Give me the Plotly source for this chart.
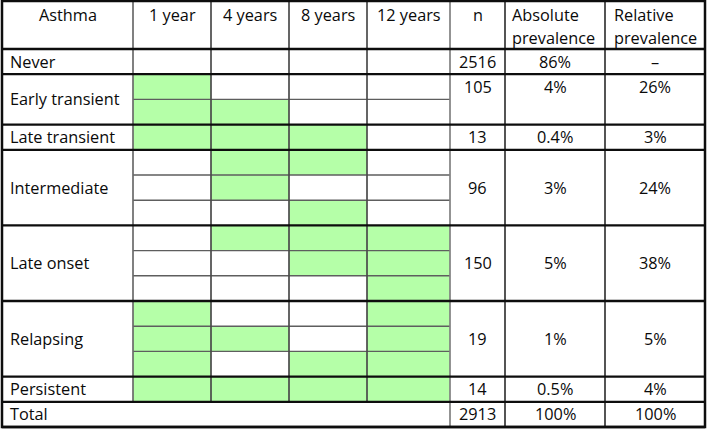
import plotly.graph_objects as go

# ---------------- data ----------------
groups = ["Never", "Early transient", "Late transient", "Intermediate",
          "Late onset", "Relapsing", "Persistent", "Total"]
ages = ["1 year", "4 years", "8 years", "12 years"]
# asthma present (1) / absent (0) at each age, one tuple per sub-row
patterns = [
    [(0, 0, 0, 0)],
    [(1, 0, 0, 0), (1, 1, 0, 0)],
    [(1, 1, 1, 0)],
    [(0, 1, 1, 0), (0, 1, 0, 0), (0, 0, 1, 0)],
    [(0, 1, 1, 1), (0, 0, 1, 1), (0, 0, 0, 1)],
    [(1, 0, 0, 1), (1, 1, 0, 1), (1, 0, 1, 1)],
    [(1, 1, 1, 1)],
    None,
]
n_values = ["2516", "105", "13", "96", "150", "19", "14", "2913"]
absolute = ["86%", "4%", "0.4%", "3%", "5%", "1%", "0.5%", "100%"]
relative = ["–", "26%", "3%", "24%", "38%", "5%", "4%", "100%"]
top_aligned = ["Early transient"]
header_first = "Asthma"
header_n = "n"
header_abs = ["Absolute", "prevalence"]
header_rel = ["Relative", "prevalence"]

# ---------------- layout geometry ----------------
W, H = 709, 429
col_x = [2, 133, 211, 289, 367, 450, 505, 605, 705]
top = 1
header_h = 48
row_h = 25.2
GREEN = "#b5ffa8"
FONT = dict(family="Open Sans", size=16.3, color="#0a0a0a")

shapes = []
ann = []

def hline(x0, x1, y, w, c):
    shapes.append(dict(type="line", xref="x", yref="y", x0=x0, x1=x1, y0=y, y1=y,
                       line=dict(color=c, width=w)))

def vline(x, y0, y1, w, c):
    shapes.append(dict(type="line", xref="x", yref="y", x0=x, x1=x, y0=y0, y1=y1,
                       line=dict(color=c, width=w)))

def text(x, y, s, xanchor="center"):
    ann.append(dict(x=x, y=y, xref="x", yref="y", text=s, showarrow=False,
                    xanchor=xanchor, yanchor="middle", font=FONT))

# header text
text(col_x[0] + (col_x[1] - col_x[0]) / 2, top + 14, header_first)
for i, a in enumerate(ages):
    text((col_x[1 + i] + col_x[2 + i]) / 2, top + 14, a)
text((col_x[5] + col_x[6]) / 2, top + 14, header_n)
text(col_x[6] + 5, top + 14, header_abs[0], "left")
text(col_x[6] + 5, top + 37, header_abs[1], "left")
text(col_x[7] + 7, top + 14, header_rel[0], "left")
text(col_x[7] + 7, top + 37, header_rel[1], "left")

y = top + header_h
group_edges = [y]
sub_lines = []
for gi, g in enumerate(groups):
    pats = patterns[gi]
    nrows = len(pats) if pats else 1
    y0 = y
    y1 = y + nrows * row_h
    if pats:
        for ri, p in enumerate(pats):
            ry0 = y0 + ri * row_h
            ry1 = ry0 + row_h
            for ci, v in enumerate(p):
                if v:
                    shapes.append(dict(type="rect", xref="x", yref="y",
                                       x0=col_x[1 + ci], x1=col_x[2 + ci], y0=ry0, y1=ry1,
                                       fillcolor=GREEN, line=dict(width=0), layer="below"))
            if ri > 0:
                sub_lines.append(ry0)
    ty = (y0 + row_h / 2) if g in top_aligned else (y0 + y1) / 2
    text(col_x[0] + 6, (y0 + y1) / 2, g, "left")
    text((col_x[5] + col_x[6]) / 2, ty, n_values[gi])
    text((col_x[6] + col_x[7]) / 2, ty, absolute[gi])
    text((col_x[7] + col_x[8]) / 2, ty, relative[gi])
    y = y1
    group_edges.append(y)

bottom = y
total_top = group_edges[-2]

# thin sub-row lines
for sy in sub_lines:
    hline(col_x[1], col_x[5], sy, 1.4, "#5e5e5e")

# vertical lines
vline(col_x[1], top, total_top, 1.7, "#6a6a6a")
for cx in col_x[2:5]:
    vline(cx, top, total_top, 1.7, "#4a4a4a")
vline(col_x[5], top, bottom, 1.7, "#808080")
vline(col_x[6], top, bottom, 1.6, "#2a2a2a")
vline(col_x[7], top, bottom, 1.6, "#2a2a2a")

# thick group lines
for gy in group_edges:
    hline(col_x[0], col_x[8], gy, 2.3, "#0d0d0d")

# outer border
shapes.append(dict(type="rect", xref="x", yref="y", x0=col_x[0], x1=col_x[8],
                   y0=top, y1=bottom, line=dict(color="#0d0d0d", width=2.5)))

fig = go.Figure()
fig.update_layout(
    width=W, height=H, margin=dict(l=0, r=0, t=0, b=0),
    paper_bgcolor="white", plot_bgcolor="white",
    xaxis=dict(range=[0, W], visible=False, fixedrange=True),
    yaxis=dict(range=[H, 0], visible=False, fixedrange=True),
    shapes=shapes, annotations=ann, showlegend=False,
)
fig.write_html("out.html", config={"displayModeBar": False},
               post_script="document.body.style.margin='0';document.body.style.overflow='hidden';")
